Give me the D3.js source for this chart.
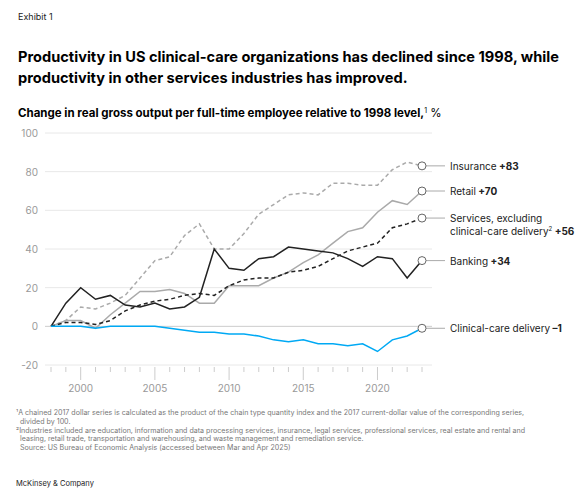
<!DOCTYPE html><html><head><meta charset="utf-8"><script src="https://cdn.jsdelivr.net/npm/d3@7"></script>
<style>body{margin:0;background:#fff;font-family:Inter,"Noto Sans",sans-serif}</style></head><body><svg id="c" width="584" height="500"></svg>
<script>
const years = d3.range(1998, 2024);
const insurance = [0,3,10,9,12,16,25,34,36,47,53,40,40,48,58,63,68,69,68,74,74,73,73,81,85,83];
const retail = [0,3,3,-1,6,12,18,18,19,17,12,12,21,21,21,25,28,33,37,43,49,51,59,65,63,70];
const services = [0,2,2,1,3,8,11,13,14,16,17,16,21,24,25,25,28,29,31,35,39,41,43,51,53,56];
const banking = [0,12,20,14,16,11,10,12,9,10,15,40,30,29,35,36,41,40,39,38,35,31,36,35,25,34];
const clinical = [0,0,0,-1,0,0,0,0,-1,-2,-3,-3,-4,-4,-5,-7,-8,-7,-9,-9,-10,-9,-13,-7,-5,-1];
const yTicks = [-20,0,20,40,60,80,100];
const xTicks = [2000,2005,2010,2015,2020];
const series = [
 {name:"Insurance", val:"+83", data:insurance, color:"#aaa", dash:"4,3"},
 {name:"Retail", val:"+70", data:retail, color:"#aaa", dash:null},
 {name:"Services, excluding|clinical-care delivery", sup:"2", val:"+56", data:services, color:"#222", dash:"4,3"},
 {name:"Banking", val:"+34", data:banking, color:"#222", dash:null},
 {name:"Clinical-care delivery", val:"–1", data:clinical, color:"#00a9f4", dash:null}
];
const svg = d3.select("#c");
const x = d3.scaleLinear().domain([1998,2023]).range([51,422]);
const y = d3.scaleLinear().domain([-20,100]).range([365,133]);
svg.append("text").attr("x",18).attr("y",20).attr("font-size",9).attr("fill","#222").text("Exhibit 1");
svg.append("text").attr("x",18).attr("y",62).attr("font-size",14.6).attr("font-weight",700).attr("fill","#000").text("Productivity in US clinical-care organizations has declined since 1998, while");
svg.append("text").attr("x",18).attr("y",83).attr("font-size",14.6).attr("font-weight",700).attr("fill","#000").text("productivity in other services industries has improved.");
const st = svg.append("text").attr("x",18).attr("y",117).attr("font-size",11.5).attr("fill","#000");
st.append("tspan").attr("font-weight",700).text("Change in real gross output per full-time employee relative to 1998 level,");
st.append("tspan").attr("font-size",7).attr("dy",-4).text("1");
st.append("tspan").attr("dy",4).text(" %");
svg.append("g").selectAll("line").data(yTicks).join("line").attr("x1",45).attr("x2",432).attr("y1",d=>y(d)).attr("y2",d=>y(d)).attr("stroke",d=>d===0?"#ccc":"#e8e8e8");
svg.append("g").selectAll("text").data(yTicks).join("text").attr("x",38).attr("y",d=>y(d)+4).attr("text-anchor","end").attr("font-size",10).attr("fill","#999").text(d=>d);
svg.append("g").selectAll("line").data(years).join("line").attr("x1",d=>x(d)).attr("x2",d=>x(d)).attr("y1",367).attr("y2",d=>xTicks.includes(d)?380:372).attr("stroke","#ccc");
svg.append("g").selectAll("text").data(xTicks).join("text").attr("x",d=>x(d)).attr("y",392).attr("text-anchor","middle").attr("font-size",10).attr("fill","#999").text(d=>d);
const line = d3.line().x((d,i)=>x(years[i])).y(d=>y(d));
series.forEach(s=>{
 svg.append("path").attr("d",line(s.data)).attr("fill","none").attr("stroke",s.color).attr("stroke-width",1.5).attr("stroke-dasharray",s.dash);
 const last = s.data[s.data.length-1];
 svg.append("line").attr("x1",x(2023)+4).attr("x2",445).attr("y1",y(last)).attr("y2",y(last)).attr("stroke","#aaa");
 svg.append("circle").attr("cx",x(2023)).attr("cy",y(last)).attr("r",4).attr("fill","#fff").attr("stroke","#666");
 const parts = s.name.split("|");
 parts.forEach((p,i)=>{
  const t = svg.append("text").attr("x",450).attr("y",y(last)+4+i*13).attr("font-size",10).attr("fill","#222");
  t.append("tspan").text(p);
  if(i===parts.length-1){
   if(s.sup) t.append("tspan").attr("font-size",6).attr("dy",-4).text(s.sup);
   t.append("tspan").attr("dy",s.sup?4:0).attr("font-weight",700).text(" "+s.val);
  }
 });
});
const fn = ["¹A chained 2017 dollar series is calculated as the product of the chain type quantity index and the 2017 current-dollar value of the corresponding series,",
"  divided by 100.",
"²Industries included are education, information and data processing services, insurance, legal services, professional services, real estate and rental and",
"  leasing, retail trade, transportation and warehousing, and waste management and remediation service.",
"  Source: US Bureau of Economic Analysis (accessed between Mar and Apr 2025)"];
svg.append("g").selectAll("text").data(fn).join("text").attr("x",16).attr("y",(d,i)=>415+i*8.8).attr("font-size",7.1).attr("fill","#777").attr("xml:space","preserve").text(d=>d);
svg.append("text").attr("x",16).attr("y",486).attr("font-size",7.5).attr("fill","#222").text("McKinsey & Company");
</script></body></html>
